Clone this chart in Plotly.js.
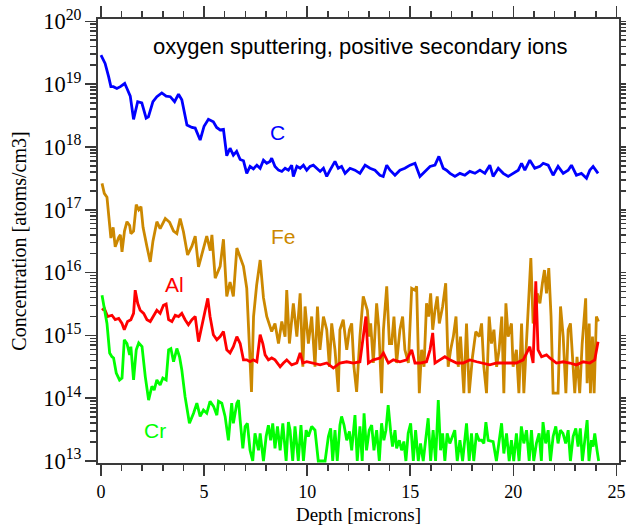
<!DOCTYPE html>
<html>
<head>
<meta charset="utf-8">
<script src="https://cdn.plot.ly/plotly-3.0.1.min.js"></script>
<style>html,body{margin:0;padding:0;background:#fff;}#chart{width:626px;height:527px;}</style>
</head>
<body>
<div id="chart"></div>
<script>
// Depth in microns; concentrations stored as log10(atoms/cm3)
const cDepth = [0.0,0.2,0.37,0.48,0.6,0.77,0.94,1.15,1.26,1.42,1.58,1.78,1.98,2.19,2.3,2.52,2.71,2.95,3.16,3.36,3.57,3.76,3.92,4.17,4.41,4.57,4.81,5.0,5.21,5.45,5.61,5.78,5.94,6.10,6.26,6.42,6.58,6.75,6.91,7.07,7.23,
  7.39,7.56,7.72,7.88,8.04,8.20,8.28,8.44,8.61,8.77,8.93,9.09,9.25,9.33,9.50,9.66,9.82,9.98,10.14,10.30,10.46,10.63,10.79,10.95,11.11,11.27,11.35,11.51,11.67,11.84,12.00,
  12.08,12.32,12.56,12.81,13.05,13.29,13.53,13.69,13.86,14.02,14.26,14.50,14.74,14.99,15.23,15.47,15.71,15.96,16.20,16.39,16.60,16.76,16.93,17.17,17.41,17.65,17.89,18.14,18.38,18.62,18.86,19.02,19.27,19.51,19.75,19.99,20.24,20.40,20.56,20.80,21.04,21.29,21.45,21.69,21.93,22.17,22.42,22.66,22.82,23.06,23.30,23.55,23.71,23.87,24.11];
const cLog10 = [19.46,19.33,19.12,18.96,18.96,18.93,18.96,19.01,18.93,18.81,18.44,18.72,18.70,18.46,18.48,18.72,18.80,18.86,18.81,18.80,18.72,18.84,18.75,18.35,18.31,18.30,18.11,18.33,18.44,18.40,18.31,18.27,18.28,17.86,17.98,17.87,17.93,17.80,17.78,17.58,17.69,
  17.65,17.71,17.66,17.79,17.74,17.77,17.82,17.69,17.63,17.61,17.66,17.63,17.71,17.53,17.69,17.66,17.71,17.63,17.69,17.71,17.66,17.61,17.66,17.53,17.63,17.71,17.77,17.66,17.69,17.58,17.63,
  17.66,17.63,17.58,17.71,17.66,17.63,17.55,17.53,17.71,17.63,17.55,17.63,17.66,17.71,17.74,17.53,17.61,17.69,17.71,17.85,17.66,17.63,17.58,17.53,17.58,17.55,17.61,17.58,17.63,17.58,17.71,17.53,17.66,17.58,17.53,17.58,17.63,17.74,17.63,17.79,17.66,17.69,17.74,17.71,17.55,17.69,17.58,17.63,17.71,17.55,17.58,17.50,17.63,17.69,17.58];

const feDepth = [0.05,0.16,0.29,0.42,0.48,0.59,0.69,0.86,0.94,1.02,1.14,1.26,1.39,1.45,1.58,1.71,1.83,1.94,2.04,2.23,2.39,2.52,2.71,2.87,3.12,3.33,3.52,3.68,3.84,4.0,4.2,4.41,4.57,4.73,4.9,5.13,5.3,5.38,5.54,5.78,5.94,6.10,6.26,6.42,6.59,6.75,6.91,7.07,7.30,7.40,7.55,7.72,7.88,
  8.04,8.28,8.44,8.61,8.77,8.93,9.01,9.14,9.33,9.50,9.66,9.79,9.90,10.06,10.22,10.38,10.50,10.62,10.79,10.95,11.08,11.19,11.35,11.51,11.59,11.75,11.92,12.05,12.16,12.27,12.40,12.56,12.72,
  12.92,13.02,13.08,13.21,13.37,13.47,13.61,13.70,13.86,13.99,14.10,14.21,14.34,14.50,14.63,14.74,14.91,15.07,15.23,15.31,15.44,15.55,15.67,15.79,15.89,15.99,16.09,16.2,16.31,16.41,16.57,16.72,16.84,16.96,17.09,17.22,17.33,17.44,17.60,17.73,17.86,18.02,18.18,18.35,18.46,18.57,18.70,18.83,18.94,19.06,19.19,19.31,19.44,19.54,19.64,19.75,19.91,19.99,20.15,20.27,20.40,20.51,20.64,20.74,20.85,20.96,21.06,21.16,21.29,21.41,21.51,21.61,21.72,21.83,21.93,22.06,22.17,22.29,22.42,22.55,22.66,22.77,22.87,22.98,23.09,23.22,23.34,23.51,23.58,23.68,23.74,23.84,23.92,24.03,24.13];
const feLog10 = [17.42,17.26,17.2,16.79,16.55,16.72,16.41,16.56,16.6,16.33,16.66,16.81,16.75,16.62,16.66,17.08,17.0,17.05,16.72,16.41,16.17,16.5,16.81,16.7,16.86,16.8,16.66,16.62,16.86,16.65,16.28,16.42,16.58,16.09,16.3,16.58,16.35,16.6,15.91,16.1,16.53,15.62,15.85,15.62,16.39,16.25,16.1,15.75,14.10,15.3,15.8,16.2,15.6,
  15.30,15.06,15.19,14.87,15.22,14.98,15.72,14.87,15.51,14.98,15.67,14.50,15.46,14.87,15.30,14.50,15.46,14.77,15.30,15.09,14.50,15.19,14.77,14.10,15.09,15.25,14.77,15.09,15.19,14.50,14.10,14.98,15.62,
  15.40,14.98,15.19,14.56,15.51,15.14,14.08,15.09,15.78,14.87,14.87,15.30,14.56,15.09,15.30,14.77,14.56,15.75,15.72,15.78,14.08,14.77,14.50,15.51,15.30,15.67,15.09,15.40,15.62,15.19,15.46,15.83,14.50,14.77,14.98,15.30,14.50,14.98,14.08,15.19,14.08,14.66,15.06,14.98,15.19,14.50,14.08,15.30,14.87,15.09,14.50,14.77,15.30,14.08,15.51,14.98,15.19,14.50,14.77,14.08,15.19,14.08,14.98,15.67,16.23,15.19,15.30,15.67,15.51,15.83,16.04,15.67,16.07,15.30,14.08,14.08,14.08,15.46,14.98,14.08,15.09,15.19,14.56,14.08,14.66,14.08,14.87,15.59,14.24,15.19,14.08,14.98,14.08,15.30,15.22];

const alDepth = [0.05,0.16,0.32,0.53,0.69,0.86,1.02,1.13,1.29,1.45,1.58,1.66,1.78,1.90,2.07,2.23,2.39,2.55,2.71,2.87,3.03,3.16,3.28,3.44,3.60,3.76,3.92,4.08,4.24,4.41,4.57,4.73,4.89,5.05,5.18,5.29,5.45,5.62,5.78,5.94,6.10,6.26,6.42,6.59,6.75,6.91,7.07,7.23,7.39,7.56,7.72,7.85,7.96,8.12,8.28,8.44,8.69,8.85,9.01,9.25,9.50,9.66,9.79,9.98,10.30,10.63,10.95,11.27,11.59,11.92,12.24,12.56,
  12.85,12.97,13.21,13.53,13.70,13.94,14.18,14.50,14.83,15.07,15.23,15.47,15.79,15.96,16.09,16.20,16.44,16.68,16.92,17.25,17.57,17.89,18.22,18.54,18.86,19.19,19.51,19.83,20.15,20.48,20.80,20.96,21.09,21.20,21.37,21.61,21.77,22.09,22.42,22.74,23.06,23.39,23.71,23.95,24.11];
const alLog10 = [15.40,15.43,15.30,15.32,15.25,15.27,15.19,15.09,15.22,15.25,15.35,15.72,15.51,15.40,15.35,15.25,15.22,15.30,15.40,15.35,15.48,15.50,15.25,15.22,15.32,15.30,15.35,15.25,15.17,15.25,15.30,14.90,15.14,15.40,15.59,15.30,15.01,14.93,14.98,15.06,14.77,14.72,14.82,14.98,14.87,14.61,14.61,14.58,14.61,14.58,15.01,14.87,14.69,14.61,14.64,14.61,14.50,14.56,14.61,14.53,14.56,14.72,14.56,14.58,14.56,14.53,14.56,14.48,14.56,14.58,14.56,14.58,
  15.30,14.56,14.61,14.64,14.72,14.56,14.61,14.58,14.61,14.77,14.56,14.56,14.58,14.77,15.04,14.56,14.61,14.66,14.61,14.56,14.56,14.61,14.58,14.56,14.53,14.56,14.56,14.56,14.56,14.61,14.82,14.56,15.86,14.77,14.66,14.69,14.64,14.56,14.58,14.56,14.53,14.58,14.56,14.61,14.90];

const crDepth = [0.05,0.16,0.29,0.42,0.53,0.61,0.74,0.90,1.02,1.13,1.26,1.39,1.45,1.58,1.71,1.83,1.99,2.15,2.31,2.47,2.58,2.71,2.87,3.00,3.16,3.28,3.39,3.52,3.68,3.81,3.92,4.08,4.20,4.29,4.49,4.65,
  4.81,4.97,5.13,5.29,5.46,5.62,5.70,5.86,6.02,6.18,6.34,6.42,6.59,6.67,6.75,6.88,6.99,7.10,7.23,7.36,7.47,7.64,7.72,7.88,8.01,8.12,8.23,8.33,8.44,8.56,8.69,8.82,8.98,9.09,9.17,9.30,9.41,9.57,9.70,9.82,9.95,10.06,10.22,10.38,10.54,10.70,10.87,11.03,11.14,11.24,11.35,11.46,11.59,11.67,11.79,11.92,12.05,12.16,12.32,12.43,12.56,12.67,12.76,12.88,13.01,13.13,13.24,13.37,13.50,13.61,13.72,13.82,13.93,14.05,14.14,14.26,14.34,14.47,14.58,14.69,14.79,14.90,15.02,15.15,15.26,15.39,15.50,15.63,15.76,15.87,15.99,16.11,16.23,16.36,16.47,16.57,16.68,16.79,16.92,17.05,17.16,17.28,17.41,17.54,17.65,17.73,17.86,17.97,18.08,18.21,18.34,18.46,18.57,18.67,18.78,19.02,19.18,19.31,19.43,19.54,19.67,19.80,19.91,20.02,20.15,20.28,20.39,20.51,20.64,20.77,20.88,20.99,21.12,21.25,21.36,21.44,21.57,21.69,21.80,21.93,22.06,22.17,22.28,22.41,22.54,22.66,22.77,22.90,23.03,23.14,23.25,23.35,23.46,23.58,23.67,23.79,23.87,23.95,24.06,24.14];
const crLog10 = [15.64,15.46,15.19,14.72,14.66,14.64,14.40,14.29,14.32,14.93,14.87,14.69,14.82,14.29,14.77,14.88,14.82,14.34,13.97,14.19,14.13,14.29,14.21,14.32,14.29,14.77,14.79,14.58,14.79,14.66,14.45,14.02,13.76,13.60,13.76,13.92,
  13.71,13.81,13.76,13.95,13.87,13.73,13.95,13.92,13.71,13.33,13.92,13.60,13.92,13.97,13.65,13.20,13.55,13.60,13.17,13.0,13.44,13.17,13.44,13.0,13.39,13.57,13.33,13.60,13.20,13.55,13.17,13.60,13.0,13.62,13.49,13.0,13.55,13.0,13.57,13.0,13.49,13.39,13.55,13.49,13.0,13.0,13.0,13.39,13.52,13.0,13.49,13.0,13.57,13.71,13.57,13.33,13.47,13.17,13.73,13.0,13.55,13.0,13.76,13.17,13.49,13.57,13.17,13.49,13.0,13.60,13.33,13.49,13.89,13.47,13.23,13.49,13.20,13.33,13.17,13.31,13.0,13.44,13.60,13.0,13.49,13.0,13.28,13.0,13.39,13.68,13.0,13.49,13.0,13.97,13.17,13.44,13.0,13.44,13.28,13.39,13.49,13.0,13.33,13.0,13.39,13.60,13.0,13.44,13.0,13.44,13.33,13.33,13.28,13.62,13.33,13.31,13.0,13.33,13.60,13.12,13.44,13.0,13.33,13.0,13.44,13.0,13.55,13.28,13.49,13.0,13.49,13.0,13.28,13.44,13.0,13.62,13.28,13.49,13.0,13.39,13.55,13.28,13.49,13.44,13.28,13.49,13.0,13.39,13.52,13.23,13.52,13.0,13.28,13.65,13.0,13.33,13.23,13.44,13.17,13.0];

const seriesNames = ['C','Fe','Al','Cr'];
const seriesColors = ['#0000ff','#cc8800','#ff0000','#00ff00'];
const chartTitle = 'oxygen sputtering, positive secondary ions';
const xTitle = 'Depth [microns]';
const yTitle = 'Concentration [atoms/cm3]';

const toConc = a => a.map(v => Math.pow(10, v));
const depths = [cDepth, feDepth, alDepth, crDepth];
const logs = [cLog10, feLog10, alLog10, crLog10];

const traces = seriesNames.map((n, i) => ({
  type: 'scatter', mode: 'lines', name: n,
  x: depths[i], y: toConc(logs[i]),
  line: {color: seriesColors[i], width: 2.8},
  hoverinfo: 'skip'
}));

const axisColor = '#3a3a3a';
const serif = 'Liberation Serif, Times New Roman, serif';
const sans = 'Liberation Sans, Arial, sans-serif';

const labelPos = [[0.3436,0.744],[0.357,0.510],[0.1468,0.403],[0.1088,0.073]];
const annotations = [{
  text: chartTitle, xref:'paper', yref:'paper', x:0.503, y:0.937, xanchor:'center', yanchor:'middle',
  showarrow:false, font:{family:sans, size:22, color:'#000'}
}].concat(seriesNames.map((n,i)=>({
  text: n, xref:'paper', yref:'paper', x:labelPos[i][0], y:labelPos[i][1], xanchor:'center', yanchor:'middle',
  showarrow:false, font:{family:sans, size:21, color:seriesColors[i]}
})));

const layout = {
  width: 626, height: 527,
  margin: {l:98, r:7, t:19, b:64, pad:0},
  paper_bgcolor:'#fff', plot_bgcolor:'#fff',
  showlegend: false,
  xaxis: {
    range: [-0.145, 25.126], dtick: 5, tick0: 0,
    ticks:'outside', ticklen:11, tickwidth:1.5, tickcolor:axisColor,
    showline:true, linecolor:axisColor, linewidth:2, mirror:'ticks',
    showgrid:false, zeroline:false,
    minor: {ticks:'outside', ticklen:6, tickwidth:1.5, tickcolor:axisColor, dtick:1, showgrid:false},
    tickfont:{family:serif, size:18, color:'#000'},
    title:{text:xTitle, font:{family:serif, size:19, color:'#000'}, standoff:7}
  },
  yaxis: {
    type:'log', range:[12.968, 20.037], dtick:1, exponentformat:'power',
    ticks:'outside', ticklen:11, tickwidth:1.5, tickcolor:axisColor,
    showline:true, linecolor:axisColor, linewidth:2, mirror:'ticks',
    showgrid:false, zeroline:false,
    minor: {ticks:'outside', ticklen:6, tickwidth:1.5, tickcolor:axisColor, dtick:'D1', showgrid:false},
    tickfont:{family:serif, size:18, color:'#000'},
    title:{text:yTitle, font:{family:serif, size:20, color:'#000'}, standoff:11}
  },
  annotations: annotations
};

Plotly.newPlot('chart', traces, layout, {staticPlot:true, displayModeBar:false});
</script>
</body>
</html>
